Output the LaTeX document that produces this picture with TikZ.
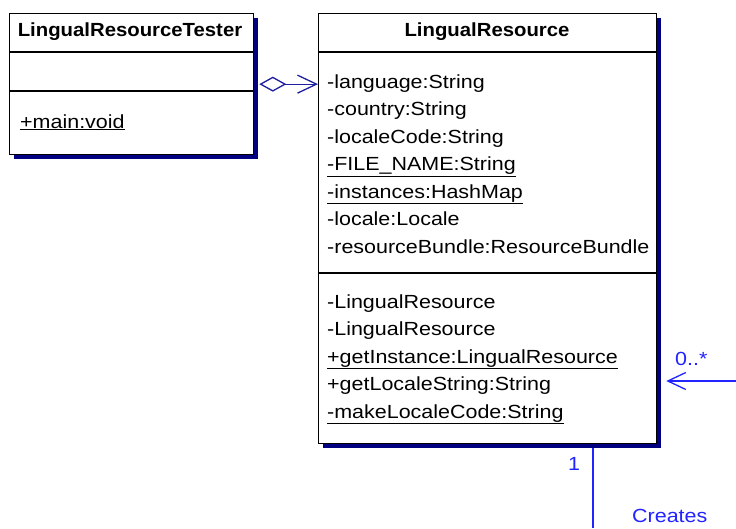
\documentclass[tikz,border=0pt]{standalone}
\usepackage{fontspec}
\setmainfont{Liberation Sans}[FakeStretch=1.13, BoldFeatures={FakeStretch=1.07}]
\usetikzlibrary{positioning, arrows.meta, shadows, calc}

\definecolor{umlnavy}{RGB}{0,0,128}
\definecolor{aggblue}{RGB}{30,30,160}
\definecolor{relblue}{RGB}{35,35,255}

\begin{document}
\begin{tikzpicture}[x=1pt, y=-1pt, font=\fontsize{19}{23}\selectfont]
    \tikzstyle{classbox} = [rectangle, draw, line width=1.3pt, fill=white, anchor=north west, inner sep=0pt,
        drop shadow={shadow xshift=4pt, shadow yshift=-4pt, fill=umlnavy, opacity=1}]
    \tikzstyle{member} = [anchor=base west, inner sep=0pt]
    \tikzstyle{title} = [anchor=base, inner sep=0pt, font=\fontsize{19}{23}\selectfont\bfseries]
    \tikzstyle{rel} = [text=relblue, anchor=base west, inner sep=0pt]
    \fill[white] (0,0) rectangle (736,528);
    \useasboundingbox (0,0) rectangle (736,528);

% class boxes
\node[classbox, minimum width=244pt, minimum height=141pt] (tester) at (9,13) {};
\draw[line width=1.3pt] ([yshift=-39pt]tester.north west) -- ([yshift=-39pt]tester.north east);
\draw[line width=1.3pt] ([yshift=-78pt]tester.north west) -- ([yshift=-78pt]tester.north east);
\node[title] (testerName) at (130,36) {LingualResourceTester};
\node[member] (testerMain) at (20,128) {\underline{+main:void}};

\node[classbox, minimum width=338pt, minimum height=430pt] (lr) at (318,13) {};
\draw[line width=1.3pt] ([yshift=-39pt]lr.north west) -- ([yshift=-39pt]lr.north east);
\draw[line width=1.3pt] ([yshift=-260pt]lr.north west) -- ([yshift=-260pt]lr.north east);
\node[title] (lrName) at (487,36) {LingualResource};

% attributes
\node[member] (aLang) at (327,88) {-language:String};
\node[member] (aCountry) at (327,115.5) {-country:String};
\node[member] (aCode) at (327,143) {-localeCode:String};
\node[member] (aFile) at (327,170.5) {\underline{-FILE\_NAME:String}};
\node[member] (aInst) at (327,198) {\underline{-instances:HashMap}};
\node[member] (aLocale) at (327,225.5) {-locale:Locale};
\node[member] (aBundle) at (327,253) {-resourceBundle:ResourceBundle};

% operations
\node[member] (oCtorA) at (327,308) {-LingualResource};
\node[member] (oCtorB) at (327,335.5) {-LingualResource};
\node[member] (oInst) at (327,363) {\underline{+getInstance:LingualResource}};
\node[member] (oString) at (327,390.5) {+getLocaleString:String};
\node[member] (oMake) at (327,418) {\underline{-makeLocaleCode:String}};

% relations
\coordinate (offRight) at (736,381);
\coordinate (offBottom) at (593,528);
\draw[aggblue, line width=1.3pt, {Diamond[open, length=27pt, width=15pt]}-{Straight Barb[length=19pt, width=18pt]}]
    ([xshift=5pt]tester.east) -- (tester.east -| lr.west);
\draw[relblue, line width=1.3pt, -{Straight Barb[length=18pt, width=17pt]}]
    (offRight) -- ([xshift=9pt]lr.east |- offRight);
\draw[relblue, line width=1.3pt] ([yshift=-4pt]offBottom |- lr.south) -- (offBottom);
\node[rel] (multMany) at (675,365) {0..*};
\node[rel] (multOne) at (568,470) {1};
\node[rel] (creates) at (632,522) {Creates};
\end{tikzpicture}
\end{document}
